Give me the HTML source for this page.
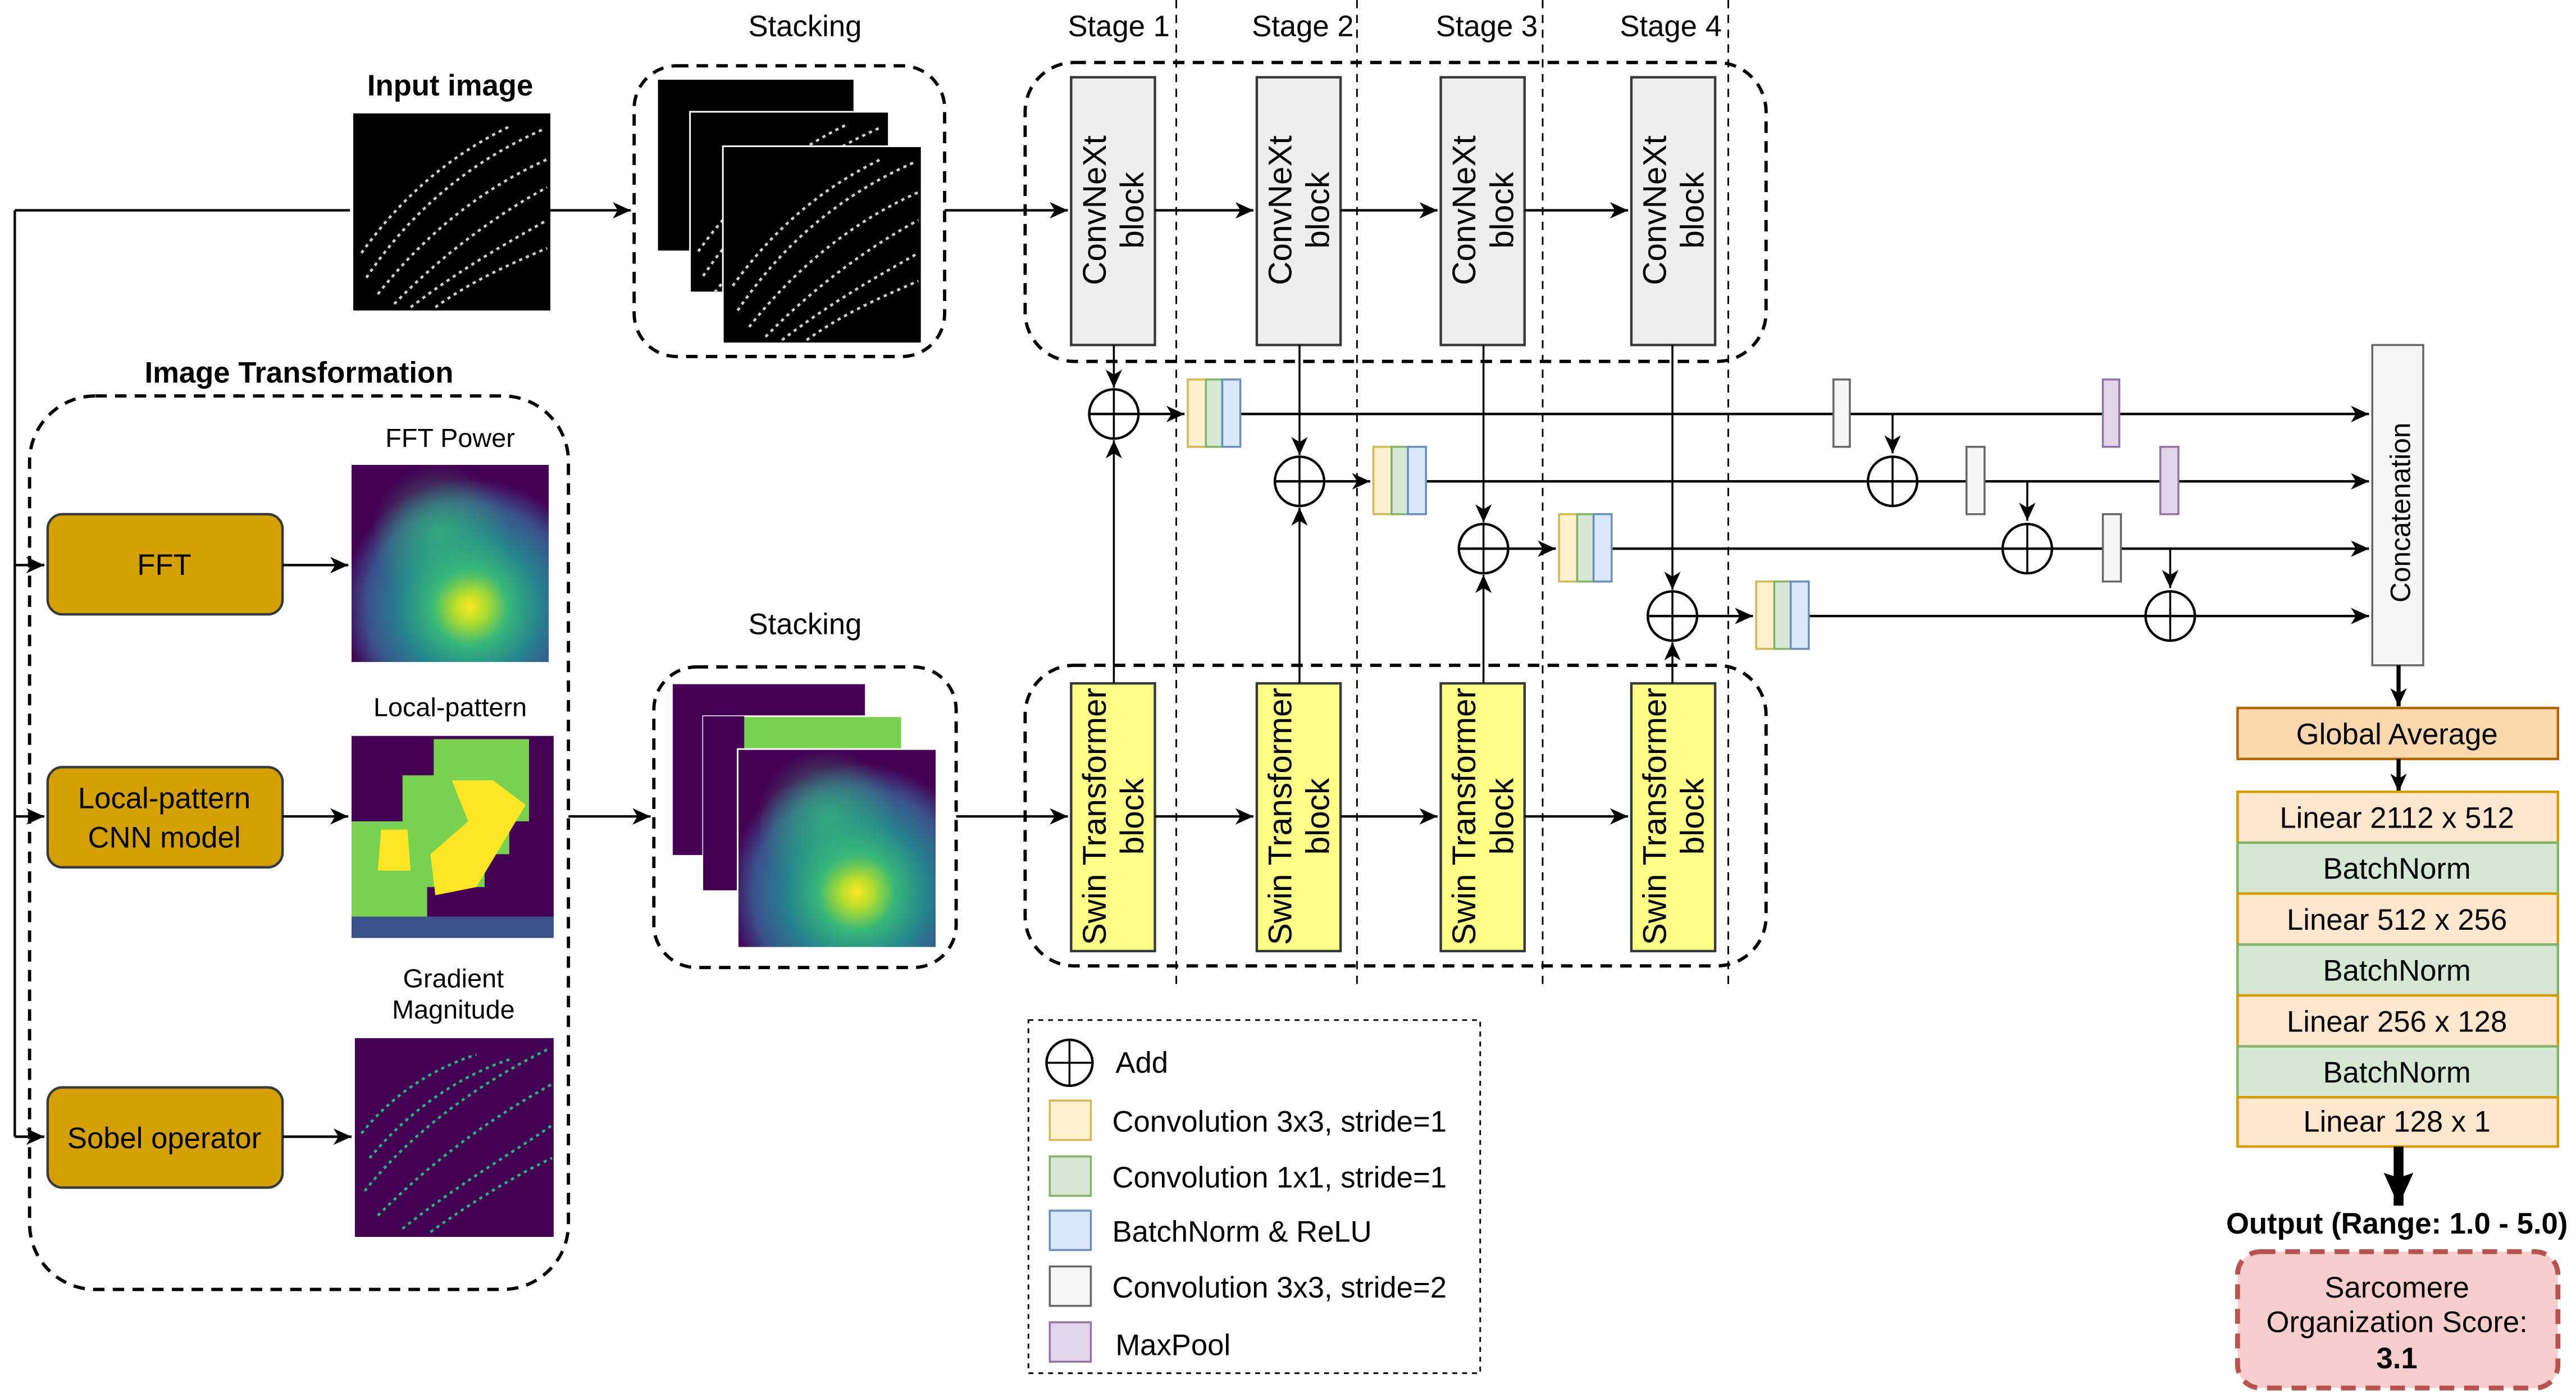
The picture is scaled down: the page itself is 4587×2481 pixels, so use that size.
<!DOCTYPE html>
<html><head><meta charset="utf-8"><style>
html,body{margin:0;padding:0;background:#fff;}
svg{display:block;}
text{font-family:"Liberation Sans",sans-serif;fill:#000;}
</style></head><body>
<svg width="4587" height="2481" viewBox="0 0 1568 848" xmlns="http://www.w3.org/2000/svg">
<defs>
<marker id="a" markerUnits="userSpaceOnUse" markerWidth="12" markerHeight="12" refX="11" refY="6" orient="auto"><path d="M0,1 L11,6 L0,11 L3,6 Z" fill="#000"/></marker>
<marker id="ab" markerUnits="userSpaceOnUse" markerWidth="22" markerHeight="22" refX="20" refY="11" orient="auto"><path d="M0,2 L20,11 L0,20 L3,11 Z" fill="#000"/></marker>
<radialGradient id="fft" cx="0.6" cy="0.72" r="0.65"><stop offset="0" stop-color="#fde725"/><stop offset="0.12" stop-color="#b5de2b"/><stop offset="0.3" stop-color="#35b779"/><stop offset="0.55" stop-color="#26828e"/><stop offset="0.8" stop-color="#3b528b"/><stop offset="1" stop-color="#440154"/></radialGradient>
<radialGradient id="fft2" cx="0.45" cy="0.35" r="0.35"><stop offset="0" stop-color="#35b779" stop-opacity="0.8"/><stop offset="1" stop-color="#35b779" stop-opacity="0"/></radialGradient>
<g id="spk" fill="none" stroke="#ccc" stroke-width="1.6" stroke-dasharray="2,2.5">
<path d="M8,100 C35,60 70,30 115,10"/><path d="M15,110 C45,72 80,45 118,28"/><path d="M25,116 C55,85 90,60 118,45"/><path d="M35,118 C65,95 95,78 118,65"/><path d="M5,85 C30,50 60,25 95,8"/><path d="M50,118 C75,100 100,90 118,82"/>
</g>
</defs>

<g font-size="18" text-anchor="middle">
<text x="681" y="22">Stage 1</text><text x="793" y="22">Stage 2</text><text x="905" y="22">Stage 3</text><text x="1017" y="22">Stage 4</text>
</g>
<g stroke="#000" stroke-width="1" stroke-dasharray="5,4">
<line x1="716" y1="0" x2="716" y2="600"/><line x1="826" y1="0" x2="826" y2="600"/><line x1="939" y1="0" x2="939" y2="600"/><line x1="1052" y1="0" x2="1052" y2="600"/>
</g>

<text x="274" y="58" font-size="18" font-weight="bold" text-anchor="middle">Input image</text>
<rect x="215" y="69" width="120" height="120" fill="#000"/>
<use href="#spk" x="215" y="69"/>

<line x1="9" y1="128" x2="213" y2="128" stroke="#000" stroke-width="1.5"/>
<line x1="9" y1="128" x2="9" y2="692" stroke="#000" stroke-width="1.5"/>
<line x1="335" y1="128" x2="384" y2="128" stroke="#000" stroke-width="1.5" marker-end="url(#a)"/>

<text x="490" y="22" font-size="18" text-anchor="middle">Stacking</text>
<rect x="386" y="40" width="189" height="177" rx="26" fill="none" stroke="#000" stroke-width="2" stroke-dasharray="7,5"/>
<rect x="400" y="48" width="120" height="105" fill="#000" stroke="#fff"/>
<rect x="420" y="68" width="121" height="110" fill="#000" stroke="#fff"/>
<use href="#spk" x="420" y="68"/>
<rect x="440" y="89" width="121" height="120" fill="#000" stroke="#fff"/>
<use href="#spk" x="441" y="89"/>
<line x1="575" y1="128" x2="650" y2="128" stroke="#000" stroke-width="1.5" marker-end="url(#a)"/>

<rect x="624" y="38" width="451" height="182" rx="30" fill="none" stroke="#000" stroke-width="2" stroke-dasharray="7,5"/>
<g fill="#eeeeee" stroke="#36393d" stroke-width="1.5">
<rect x="652" y="47" width="51" height="163"/><rect x="765" y="47" width="51" height="163"/><rect x="877" y="47" width="51" height="163"/><rect x="993" y="47" width="51" height="163"/>
</g>
<g font-size="20" text-anchor="middle">
<text transform="translate(677,128) rotate(-90)"><tspan x="0" y="-4">ConvNeXt</tspan><tspan x="0" y="19">block</tspan></text>
<text transform="translate(790,128) rotate(-90)"><tspan x="0" y="-4">ConvNeXt</tspan><tspan x="0" y="19">block</tspan></text>
<text transform="translate(902,128) rotate(-90)"><tspan x="0" y="-4">ConvNeXt</tspan><tspan x="0" y="19">block</tspan></text>
<text transform="translate(1018,128) rotate(-90)"><tspan x="0" y="-4">ConvNeXt</tspan><tspan x="0" y="19">block</tspan></text>
</g>
<g stroke="#000" stroke-width="1.5">
<line x1="703" y1="128" x2="763" y2="128" marker-end="url(#a)"/><line x1="816" y1="128" x2="875" y2="128" marker-end="url(#a)"/><line x1="928" y1="128" x2="991" y2="128" marker-end="url(#a)"/>
</g>

<text x="182" y="233" font-size="18" font-weight="bold" text-anchor="middle">Image Transformation</text>
<rect x="18" y="241" width="328" height="544" rx="40" fill="none" stroke="#000" stroke-width="2" stroke-dasharray="7,5"/>
<g fill="#d4a000" stroke="#36393d" stroke-width="1.5">
<rect x="29" y="313" width="143" height="61" rx="9"/><rect x="29" y="467" width="143" height="61" rx="9"/><rect x="29" y="662" width="143" height="61" rx="9"/>
</g>
<g font-size="18" text-anchor="middle" style="fill:#fff">
<text x="100" y="350" fill="#fff">FFT</text>
<text x="100" y="492" fill="#fff">Local-pattern</text><text x="100" y="516" fill="#fff">CNN model</text>
<text x="100" y="699" fill="#fff">Sobel operator</text>
</g>
<g stroke="#000" stroke-width="1.5">
<line x1="9" y1="344" x2="27" y2="344" marker-end="url(#a)"/><line x1="9" y1="497" x2="27" y2="497" marker-end="url(#a)"/><line x1="9" y1="692" x2="27" y2="692" marker-end="url(#a)"/>
<line x1="172" y1="344" x2="212" y2="344" marker-end="url(#a)"/><line x1="172" y1="497" x2="212" y2="497" marker-end="url(#a)"/><line x1="172" y1="692" x2="214" y2="692" marker-end="url(#a)"/>
<line x1="346" y1="497" x2="396" y2="497" marker-end="url(#a)"/>
</g>
<g font-size="16" text-anchor="middle">
<text x="274" y="272">FFT Power</text><text x="274" y="436">Local-pattern</text><text x="276" y="601">Gradient</text><text x="276" y="620">Magnitude</text>
</g>
<rect x="214" y="283" width="120" height="120" fill="url(#fft)"/>
<rect x="214" y="283" width="120" height="120" fill="url(#fft2)"/>
<rect x="214" y="448" width="123" height="123" fill="#440154"/>
<path d="M214,500 L245,500 L245,472 L264,472 L264,450 L322,450 L322,500 L310,500 L310,520 L295,520 L295,540 L260,540 L260,558 L214,558 Z" fill="#7ad151"/>
<path d="M275,475 L300,475 L320,490 L305,515 L290,540 L265,545 L262,520 L285,500 Z M232,505 L248,505 L250,530 L230,530 Z" fill="#fde725"/>
<rect x="214" y="558" width="123" height="13" fill="#3b528b"/>
<rect x="216" y="632" width="121" height="121" fill="#440154"/>
<g fill="none" stroke="#2ab07f" stroke-width="1.6" stroke-dasharray="2,2.5">
<path d="M222,725 C250,690 290,660 335,638"/><path d="M230,740 C265,705 300,680 336,660"/><path d="M245,748 C280,720 315,700 336,685"/><path d="M225,705 C250,675 280,655 310,645"/><path d="M220,690 C240,665 265,650 290,642"/><path d="M262,750 C290,730 315,715 336,705"/>
</g>

<text x="490" y="386" font-size="18" text-anchor="middle">Stacking</text>
<rect x="398" y="406" width="184" height="183" rx="26" fill="none" stroke="#000" stroke-width="2" stroke-dasharray="7,5"/>
<rect x="409" y="416" width="118" height="105" fill="#440154" stroke="#fff"/>
<rect x="428" y="436" width="121" height="106" fill="#7ad151" stroke="#fff"/>
<rect x="428" y="436" width="25" height="106" fill="#440154"/>
<rect x="449" y="456" width="121" height="121" fill="url(#fft)" stroke="#fff"/>
<rect x="449" y="456" width="121" height="121" fill="url(#fft2)"/>
<line x1="582" y1="497" x2="650" y2="497" stroke="#000" stroke-width="1.5" marker-end="url(#a)"/>

<rect x="624" y="405" width="451" height="183" rx="30" fill="none" stroke="#000" stroke-width="2" stroke-dasharray="7,5"/>
<g fill="#ffff88" stroke="#36393d" stroke-width="1.5">
<rect x="652" y="416" width="51" height="163"/><rect x="765" y="416" width="51" height="163"/><rect x="877" y="416" width="51" height="163"/><rect x="993" y="416" width="51" height="163"/>
</g>
<g font-size="20" text-anchor="middle">
<text transform="translate(677,497) rotate(-90)"><tspan x="0" y="-4">Swin Transformer</tspan><tspan x="0" y="19">block</tspan></text>
<text transform="translate(790,497) rotate(-90)"><tspan x="0" y="-4">Swin Transformer</tspan><tspan x="0" y="19">block</tspan></text>
<text transform="translate(902,497) rotate(-90)"><tspan x="0" y="-4">Swin Transformer</tspan><tspan x="0" y="19">block</tspan></text>
<text transform="translate(1018,497) rotate(-90)"><tspan x="0" y="-4">Swin Transformer</tspan><tspan x="0" y="19">block</tspan></text>
</g>
<g stroke="#000" stroke-width="1.5">
<line x1="703" y1="497" x2="763" y2="497" marker-end="url(#a)"/><line x1="816" y1="497" x2="875" y2="497" marker-end="url(#a)"/><line x1="928" y1="497" x2="991" y2="497" marker-end="url(#a)"/>
</g>

<g stroke="#000" stroke-width="1.2" fill="none">
<line x1="678" y1="210" x2="678" y2="236" marker-end="url(#a)"/><line x1="678" y1="416" x2="678" y2="268" marker-end="url(#a)"/>
<line x1="791" y1="210" x2="791" y2="277" marker-end="url(#a)"/><line x1="791" y1="416" x2="791" y2="309" marker-end="url(#a)"/>
<line x1="903" y1="210" x2="903" y2="318" marker-end="url(#a)"/><line x1="903" y1="416" x2="903" y2="350" marker-end="url(#a)"/>
<line x1="1018" y1="210" x2="1018" y2="359" marker-end="url(#a)"/><line x1="1018" y1="416" x2="1018" y2="391" marker-end="url(#a)"/>
</g>
<g stroke="#000" stroke-width="1.5" fill="#fff">
<circle cx="678" cy="252" r="15"/><circle cx="791" cy="293" r="15"/><circle cx="903" cy="334" r="15"/><circle cx="1018" cy="375" r="15"/>
<circle cx="1152" cy="293" r="15"/><circle cx="1234" cy="334" r="15"/><circle cx="1321" cy="375" r="15"/>
</g>
<g stroke="#000" stroke-width="1.2">
<line x1="678" y1="237" x2="678" y2="267"/><line x1="791" y1="278" x2="791" y2="308"/><line x1="903" y1="319" x2="903" y2="349"/><line x1="1018" y1="360" x2="1018" y2="390"/>
<line x1="1152" y1="278" x2="1152" y2="308"/><line x1="1234" y1="319" x2="1234" y2="349"/><line x1="1321" y1="360" x2="1321" y2="390"/>
</g>
<g stroke="#000" stroke-width="1.5">
<line x1="663" y1="252" x2="721" y2="252" marker-end="url(#a)"/>
<line x1="776" y1="293" x2="834" y2="293" marker-end="url(#a)"/>
<line x1="888" y1="334" x2="947" y2="334" marker-end="url(#a)"/>
<line x1="1003" y1="375" x2="1067" y2="375" marker-end="url(#a)"/>
<line x1="755" y1="252" x2="1442" y2="252" marker-end="url(#a)"/>
<line x1="868" y1="293" x2="1442" y2="293" marker-end="url(#a)"/>
<line x1="981" y1="334" x2="1442" y2="334" marker-end="url(#a)"/>
<line x1="1101" y1="375" x2="1442" y2="375" marker-end="url(#a)"/>
</g>
<g stroke="#000" stroke-width="1.2">
<line x1="1152" y1="252" x2="1152" y2="276" marker-end="url(#a)"/>
<line x1="1234" y1="293" x2="1234" y2="317" marker-end="url(#a)"/>
<line x1="1321" y1="334" x2="1321" y2="358" marker-end="url(#a)"/>
</g>
<g stroke-width="1.2">
<g transform="translate(723,231)"><rect width="11" height="41" fill="#fff2cc" stroke="#d6b656"/><rect x="11" width="10" height="41" fill="#d5e8d4" stroke="#82b366"/><rect x="21" width="11" height="41" fill="#dae8fc" stroke="#6c8ebf"/></g>
<g transform="translate(836,272)"><rect width="11" height="41" fill="#fff2cc" stroke="#d6b656"/><rect x="11" width="10" height="41" fill="#d5e8d4" stroke="#82b366"/><rect x="21" width="11" height="41" fill="#dae8fc" stroke="#6c8ebf"/></g>
<g transform="translate(949,313)"><rect width="11" height="41" fill="#fff2cc" stroke="#d6b656"/><rect x="11" width="10" height="41" fill="#d5e8d4" stroke="#82b366"/><rect x="21" width="11" height="41" fill="#dae8fc" stroke="#6c8ebf"/></g>
<g transform="translate(1069,354)"><rect width="11" height="41" fill="#fff2cc" stroke="#d6b656"/><rect x="11" width="10" height="41" fill="#d5e8d4" stroke="#82b366"/><rect x="21" width="11" height="41" fill="#dae8fc" stroke="#6c8ebf"/></g>
</g>
<g fill="#f5f5f5" stroke="#666" stroke-width="1.2">
<rect x="1116" y="231" width="10" height="41"/><rect x="1197" y="272" width="11" height="41"/><rect x="1280" y="313" width="11" height="41"/>
</g>
<g fill="#e1d5e7" stroke="#9673a6" stroke-width="1.2">
<rect x="1280" y="231" width="10" height="41"/><rect x="1315" y="272" width="11" height="41"/>
</g>

<rect x="1444" y="210" width="31" height="195" fill="#f5f5f5" stroke="#666" stroke-width="1.2"/>
<text transform="translate(1467,312) rotate(-90)" font-size="17" text-anchor="middle">Concatenation</text>
<line x1="1460" y1="405" x2="1460" y2="430" stroke="#000" stroke-width="2.5" marker-end="url(#a)"/>
<rect x="1362" y="431" width="195" height="31" fill="#fad7ac" stroke="#b46504" stroke-width="1.5"/>
<text x="1459" y="453" font-size="18" text-anchor="middle">Global Average</text>
<line x1="1460" y1="462" x2="1460" y2="482" stroke="#000" stroke-width="2.5" marker-end="url(#a)"/>
<g stroke-width="1.5">
<rect x="1362" y="482" width="195" height="31" fill="#ffe6cc" stroke="#d79b00"/>
<rect x="1362" y="513" width="195" height="31" fill="#d5e8d4" stroke="#82b366"/>
<rect x="1362" y="544" width="195" height="31" fill="#ffe6cc" stroke="#d79b00"/>
<rect x="1362" y="575" width="195" height="31" fill="#d5e8d4" stroke="#82b366"/>
<rect x="1362" y="606" width="195" height="31" fill="#ffe6cc" stroke="#d79b00"/>
<rect x="1362" y="637" width="195" height="31" fill="#d5e8d4" stroke="#82b366"/>
<rect x="1362" y="668" width="195" height="30" fill="#ffe6cc" stroke="#d79b00"/>
</g>
<g font-size="18" text-anchor="middle">
<text x="1459" y="504">Linear 2112 x 512</text><text x="1459" y="535">BatchNorm</text><text x="1459" y="566">Linear 512 x 256</text><text x="1459" y="597">BatchNorm</text><text x="1459" y="628">Linear 256 x 128</text><text x="1459" y="659">BatchNorm</text><text x="1459" y="689">Linear 128 x 1</text>
</g>
<line x1="1460" y1="698" x2="1460" y2="734" stroke="#000" stroke-width="6" marker-end="url(#ab)"/>
<text x="1459" y="751" font-size="18" font-weight="bold" text-anchor="middle">Output (Range: 1.0 - 5.0)</text>
<rect x="1362" y="762" width="195" height="83" rx="14" fill="#f8cecc" stroke="#b85450" stroke-width="3" stroke-dasharray="9,6"/>
<g font-size="18" text-anchor="middle"><text x="1459" y="790">Sarcomere</text><text x="1459" y="811">Organization Score:</text><text x="1459" y="833" font-weight="bold">3.1</text></g>

<rect x="626" y="621" width="275" height="215" fill="none" stroke="#000" stroke-width="1" stroke-dasharray="3,3"/>
<circle cx="651" cy="647" r="14" fill="none" stroke="#000" stroke-width="1.5"/>
<line x1="637" y1="647" x2="665" y2="647" stroke="#000" stroke-width="1.2"/><line x1="651" y1="633" x2="651" y2="661" stroke="#000" stroke-width="1.2"/>
<g stroke-width="1.2">
<rect x="639" y="670" width="25" height="24" fill="#fff2cc" stroke="#d6b656"/>
<rect x="639" y="704" width="25" height="24" fill="#d5e8d4" stroke="#82b366"/>
<rect x="639" y="737" width="25" height="24" fill="#dae8fc" stroke="#6c8ebf"/>
<rect x="639" y="771" width="25" height="24" fill="#f5f5f5" stroke="#666"/>
<rect x="639" y="805" width="25" height="24" fill="#e1d5e7" stroke="#9673a6"/>
</g>
<g font-size="18">
<text x="679" y="653">Add</text><text x="677" y="689">Convolution 3x3, stride=1</text><text x="677" y="723">Convolution 1x1, stride=1</text><text x="677" y="756">BatchNorm &amp; ReLU</text><text x="677" y="790">Convolution 3x3, stride=2</text><text x="679" y="825">MaxPool</text>
</g>
</svg>
</body></html>
